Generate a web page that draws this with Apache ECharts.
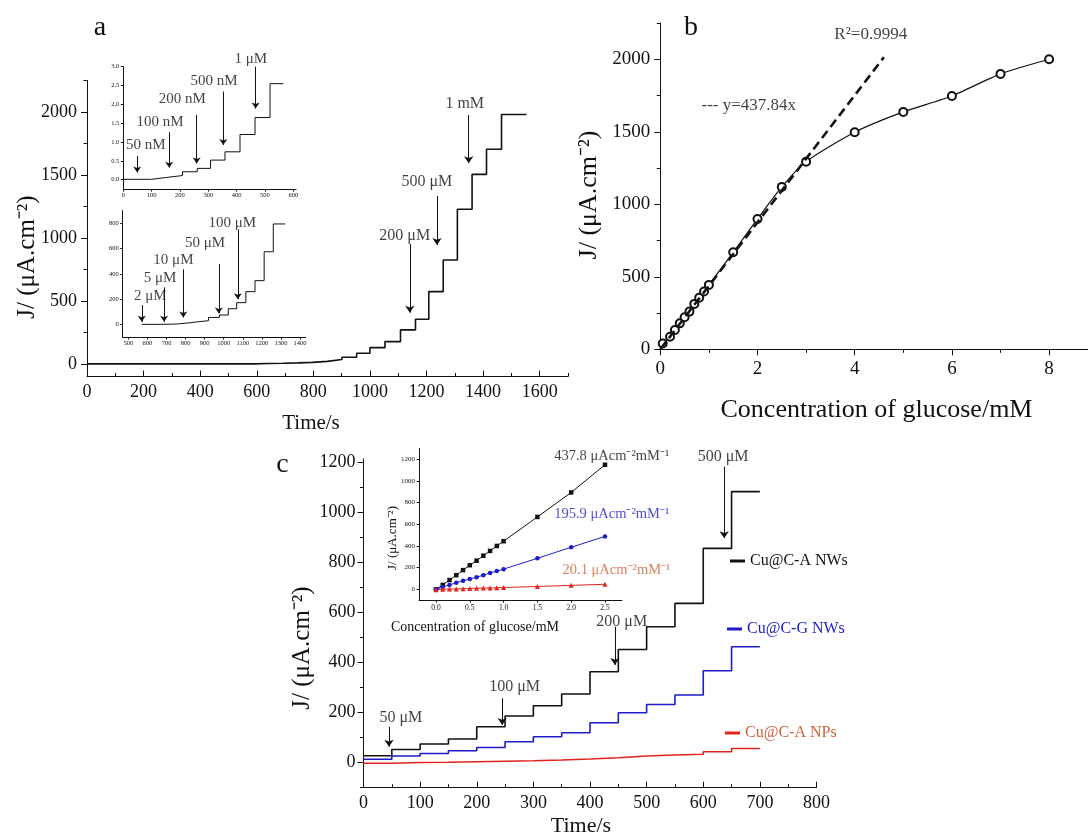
<!DOCTYPE html>
<html><head><meta charset="utf-8">
<script src="https://cdn.jsdelivr.net/npm/echarts@6/dist/echarts.min.js"></script>
<style>html,body{margin:0;padding:0;background:#fff}#chart{width:1088px;height:835px}</style>
</head><body><div id="chart"></div>
<script>
// ---------------- DATA ----------------
// Panel a, main amperometric staircase (step start time, current density)
const aMainTime = [0, 589, 641, 693, 745, 797, 849, 901, 953, 1000, 1053, 1108, 1161, 1208, 1259, 1309, 1361, 1412, 1465, 1553];
const aMainJ    = [0, 3, 5, 8, 12, 20, 35, 53, 85, 129, 177, 270, 355, 574, 825, 1228, 1505, 1704, 1980, 1975];
// Panel a, top inset (nM additions)
const aTopTime = [0, 100, 153, 209, 261, 308, 359, 412, 465, 518, 565];
const aTopJ    = [0.01, 0.06, 0.11, 0.21, 0.30, 0.52, 0.74, 1.20, 1.65, 2.55, 2.56];
// Panel a, bottom inset (μM additions)
const aBotTime = [570, 675, 757, 824, 867, 920, 977, 1024, 1068, 1116, 1164, 1212, 1260, 1322];
const aBotJ    = [0, 3, 13, 21, 29, 55, 74, 124, 172, 259, 346, 575, 795, 792];
// Panel b, calibration points
const bConc = [0.05, 0.2, 0.3, 0.4, 0.5, 0.6, 0.7, 0.8, 0.9, 1.0, 1.5, 2, 2.5, 3, 4, 5, 6, 7, 8];
const bJ    = [40, 87, 133, 179, 221, 260, 313, 356, 398, 444, 669, 899, 1120, 1294, 1497, 1637, 1747, 1899, 2000];
const bFitConc = [0, 4.6];
const bFitJ    = [0, 2014];
// Panel c, staircases for three materials
const cTime  = [0, 50, 100, 150, 200, 250, 300, 350, 400, 450, 500, 550, 600, 650, 700];
const cANWs  = [28, 53, 75, 95, 144, 187, 228, 275, 364, 453, 544, 637, 857, 1084, 1084];
const cGNWs  = [14, 27, 37, 48, 61, 84, 104, 120, 160, 200, 233, 271, 368, 464, 462];
const cANPs  = [-2, 1, 2, 4, 6, 8, 11, 15, 20, 27, 31, 34, 44, 57, 56];
// Panel c inset calibration
const icConc  = [0, 0.1, 0.2, 0.3, 0.4, 0.5, 0.6, 0.7, 0.8, 0.9, 1.0, 1.5, 2.0, 2.5];
const icANWs  = [0, 40, 85, 130, 177, 222, 264, 310, 354, 400, 444, 668, 894, 1150];
const icGNWs  = [0, 22, 40, 60, 78, 95, 112, 130, 150, 168, 186, 286, 388, 488];
const icANPs  = [-5, 0, 2, 3, 5, 7, 9, 11, 12, 14, 16, 26, 36, 46];

// Annotations: [x, y, text] and arrows: [x, yFrom, yTo]
const aMainNotes  = [[1123, 1016, '200 μM'], [1201, 1444, '500 μM'], [1335, 2063, '1 mM']];
const aMainArrows = [[1141, 952, 407], [1237, 1333, 944], [1349, 1976, 1593]];
const aTopNotes   = [[79, 0.92, '50 nM'], [130, 1.54, '100 nM'], [208, 2.13, '200 nM'], [320, 2.62, '500 nM'], [450, 3.20, '1 μM']];
const aTopArrows  = [[49, 0.63, 0.19], [162, 1.26, 0.32], [259, 1.72, 0.43], [353, 2.34, 0.92], [467, 3.0, 1.89]];
const aBotNotes   = [[615, 224, '2 μM'], [666, 364, '5 μM'], [736, 509, '10 μM'], [902, 642, '50 μM'], [1045, 800, '100 μM']];
const aBotArrows  = [[570, 153, 21], [687, 293, 21], [788, 436, 55], [974, 478, 87], [1074, 752, 198]];
const bNotes      = [[4.33, 2168, 'R²=0.9994'], [1.82, 1678, '--- y=437.84x']];
const cNotes      = [[66, 178, '50 μM'], [267, 302, '100 μM'], [456, 564, '200 μM'], [635, 1224, '500 μM']];
const cArrows     = [[45, 144, 64], [245, 258, 151], [444, 544, 391], [637, 1184, 898]];
const icNotes     = [[2.60, 1229, '437.8 μAcm⁻²mM⁻¹'], [2.60, 692, '195.9 μAcm⁻²mM⁻¹'], [2.67, 178, '20.1 μAcm⁻²mM⁻¹']];

// Tick label values
const aXLabels = [0, 200, 400, 600, 800, 1000, 1200, 1400, 1600];
const aXMinor  = [100, 300, 500, 700, 900, 1100, 1300, 1500, 1700];
const aYLabels = [0, 500, 1000, 1500, 2000];
const aYMinor  = [250, 750, 1250, 1750, 2250];
const aTopXLabels = [0, 100, 200, 300, 400, 500, 600];
const aTopYLabels = [0, 0.5, 1.0, 1.5, 2.0, 2.5, 3.0];
const aBotXLabels = [500, 600, 700, 800, 900, 1000, 1100, 1200, 1300, 1400];
const aBotYLabels = [0, 200, 400, 600, 800];
const bXLabels = [0, 2, 4, 6, 8];
const bXMinor  = [1, 3, 5, 7];
const bYLabels = [0, 500, 1000, 1500, 2000];
const bYMinor  = [250, 750, 1250, 1750, 2250];
const cXLabels = [0, 100, 200, 300, 400, 500, 600, 700, 800];
const cXMinor  = [50, 150, 250, 350, 450, 550, 650, 750];
const cYLabels = [0, 200, 400, 600, 800, 1000, 1200];
const cYMinor  = [-100, 100, 300, 500, 700, 900, 1100];
const icXLabels = [0, 0.5, 1.0, 1.5, 2.0, 2.5];
const icYLabels = [0, 200, 400, 600, 800, 1000, 1200];

// ---------------- STYLE / LAYOUT ----------------
const FONT = "'Liberation Serif','Times New Roman',serif";
const INK = '#111';
const BLUE = '#1c1cc8';
const RED = '#e0241e';
const ORANGE = '#d0603a';

function pairs(xs, ys) { return xs.map((x, i) => [x, ys[i]]); }

function mkAxis(grid, min, max, labels, ticks, o) {
  return {
    type: 'value', gridIndex: grid, min: min, max: max, position: o.pos,
    axisLine: { show: true, onZero: false, lineStyle: { color: INK, width: 1 } },
    axisTick: { show: true, inside: !!o.inside, length: o.tl || 6, customValues: ticks, lineStyle: { color: INK, width: 1 } },
    axisLabel: { show: true, customValues: labels, fontFamily: FONT, fontSize: o.fs, color: INK, margin: o.margin,
                 formatter: o.fmt || (v => String(v)) },
    splitLine: { show: false }
  };
}
function mkMinor(grid, min, max, ticks, o) {
  return {
    type: 'value', gridIndex: grid, min: min, max: max, position: o.pos,
    axisLine: { show: false, onZero: false },
    axisTick: { show: true, inside: !!o.inside, length: 3.5, customValues: ticks, lineStyle: { color: INK, width: 1 } },
    axisLabel: { show: false },
    splitLine: { show: false }
  };
}

const grids = [
  { left: 87, top: 80.5, width: 481, height: 296 },        // 0 a main
  { left: 123.3, top: 66.7, width: 172.8, height: 122.4 }, // 1 a top inset
  { left: 122.7, top: 210.7, width: 183, height: 126.3 },  // 2 a bottom inset
  { left: 660.3, top: 23, width: 428.6, height: 326.3 },   // 3 b
  { left: 363.5, top: 458.9, width: 453, height: 328.8 },  // 4 c
  { left: 419.1, top: 448.5, width: 202.8, height: 151.6 } // 5 c inset
];

const xAxes = [
  mkAxis(0, 0, 1700, aXLabels, aXLabels, { pos: 'bottom', fs: 18, margin: 7, inside: true }),
  mkAxis(1, 0, 610, aTopXLabels, aTopXLabels, { pos: 'bottom', fs: 6.5, margin: 3, tl: 2.5 }),
  mkAxis(2, 470, 1430, aBotXLabels, aBotXLabels, { pos: 'bottom', fs: 6.5, margin: 3, tl: 2.5 }),
  mkAxis(3, 0, 8.8, bXLabels, bXLabels, { pos: 'bottom', fs: 19, margin: 10 }),
  mkAxis(4, 0, 800, cXLabels, cXLabels, { pos: 'bottom', fs: 18, margin: 7, inside: true }),
  mkAxis(5, -0.25, 2.75, icXLabels, icXLabels, { pos: 'bottom', fs: 7.5, margin: 4, tl: 2.5, fmt: v => v.toFixed(1) }),
  mkMinor(0, 0, 1700, aXMinor, { pos: 'bottom', inside: true }),
  mkMinor(3, 0, 8.8, bXMinor, { pos: 'bottom' }),
  mkMinor(4, 0, 800, cXMinor, { pos: 'bottom', inside: true })
];
const yAxes = [
  mkAxis(0, -100, 2250, aYLabels, aYLabels, { pos: 'left', fs: 18, margin: 10 }),
  mkAxis(1, -0.25, 3.0, aTopYLabels, aTopYLabels, { pos: 'left', fs: 6.5, margin: 4, tl: 2.5, fmt: v => v.toFixed(1) }),
  mkAxis(2, -100, 900, aBotYLabels, aBotYLabels, { pos: 'left', fs: 6.5, margin: 4, tl: 2.5 }),
  mkAxis(3, 0, 2250, bYLabels, bYLabels, { pos: 'left', fs: 19, margin: 10 }),
  mkAxis(4, -100, 1215, cYLabels, cYLabels, { pos: 'left', fs: 18, margin: 8 }),
  mkAxis(5, -100, 1300, icYLabels, icYLabels, { pos: 'left', fs: 7, margin: 4, tl: 2.5 }),
  mkMinor(0, -100, 2250, aYMinor, { pos: 'left' }),
  mkMinor(3, 0, 2250, bYMinor, { pos: 'left' }),
  mkMinor(4, -100, 1215, cYMinor, { pos: 'left' })
];

function stepLine(name, idx, xs, ys, color, width) {
  return { name: name, type: 'line', xAxisIndex: idx, yAxisIndex: idx, step: 'end', showSymbol: false,
           data: pairs(xs, ys), color: color, lineStyle: { color: color, width: width }, animation: false, silent: true };
}
function notes(idx, list, arrows, fs, colors, arrowSize) {
  return {
    type: 'scatter', xAxisIndex: idx, yAxisIndex: idx, symbolSize: 0, clip: false, silent: true, animation: false, z: 5,
    data: list.map((n, i) => ({ value: [n[0], n[1]], name: n[2],
      label: { show: true, position: 'inside', formatter: n[2], fontFamily: FONT, fontSize: fs,
               color: colors ? colors[i] : INK } })),
    markLine: arrows ? {
      silent: true, animation: false, symbol: ['none', 'arrow'], symbolSize: arrowSize,
      lineStyle: { color: INK, width: 1, type: 'solid' }, label: { show: false },
      data: arrows.map(a => [{ coord: [a[0], a[1]] }, { coord: [a[0], a[2]] }])
    } : undefined
  };
}

const series = [
  stepLine('a main', 0, aMainTime, aMainJ, INK, 1.6),
  stepLine('a top', 1, aTopTime, aTopJ, INK, 1),
  stepLine('a bottom', 2, aBotTime, aBotJ, INK, 1),
  { name: 'b data', type: 'line', xAxisIndex: 3, yAxisIndex: 3, data: pairs(bConc, bJ), smooth: 0.22,
    symbol: 'emptyCircle', symbolSize: 8, showSymbol: true, showAllSymbol: true, color: INK,
    itemStyle: { color: INK, borderColor: INK, borderWidth: 1 },
    lineStyle: { color: INK, width: 1.2 }, z: 3, animation: false, silent: true },
  { name: 'b fit', type: 'line', xAxisIndex: 3, yAxisIndex: 3, data: pairs(bFitConc, bFitJ), showSymbol: false,
    lineStyle: { color: INK, width: 2.6, type: [9, 5] }, z: 4, animation: false, silent: true },
  stepLine('Cu@C-A NWs', 4, cTime, cANWs, INK, 1.6),
  stepLine('Cu@C-G NWs', 4, cTime, cGNWs, BLUE, 1.6),
  stepLine('Cu@C-A NPs', 4, cTime, cANPs, RED, 1.6),
  { name: 'i A NWs', type: 'line', xAxisIndex: 5, yAxisIndex: 5, data: pairs(icConc, icANWs), symbol: 'rect', symbolSize: 4.5,
    showAllSymbol: true, color: INK, lineStyle: { color: INK, width: 1 }, animation: false, silent: true },
  { name: 'i G NWs', type: 'line', xAxisIndex: 5, yAxisIndex: 5, data: pairs(icConc, icGNWs), symbol: 'circle', symbolSize: 4.5,
    showAllSymbol: true, color: BLUE, lineStyle: { color: BLUE, width: 1 }, animation: false, silent: true },
  { name: 'i A NPs', type: 'line', xAxisIndex: 5, yAxisIndex: 5, data: pairs(icConc, icANPs), symbol: 'triangle', symbolSize: 5,
    showAllSymbol: true, color: RED, lineStyle: { color: RED, width: 1 }, animation: false, silent: true },
  notes(0, aMainNotes, aMainArrows, 16, null, 7),
  notes(1, aTopNotes, aTopArrows, 15, null, 6),
  notes(2, aBotNotes, aBotArrows, 15, null, 6),
  notes(3, bNotes, null, 17, null, 6),
  notes(4, cNotes, cArrows, 16, null, 7),
  notes(5, icNotes, null, 14.5, [INK, BLUE, ORANGE], 6)
];

function txt(x, y, text, size, rot, color) {
  return { type: 'text', x: x, y: y, rotation: rot || 0, silent: true,
    style: { text: text, fontFamily: FONT, fontSize: size, fill: color || INK,
             align: 'center', verticalAlign: 'middle', textAlign: 'center', textVerticalAlign: 'middle' } };
}
const graphics = [
  txt(100, 28, 'a', 28), txt(691, 28, 'b', 28), txt(282.5, 465, 'c', 28),
  txt(27, 257, 'J/ (μA.cm⁻²)', 25, Math.PI / 2),
  txt(311, 423, 'Time/s', 21),
  txt(589, 195, 'J/ (μA.cm⁻²)', 26, Math.PI / 2),
  txt(876.5, 410, 'Concentration of glucose/mM', 26),
  txt(302, 648, 'J/ (μA.cm⁻²)', 25, Math.PI / 2),
  txt(581, 826, 'Time/s', 22),
  txt(475, 627, 'Concentration of glucose/mM', 14),
  txt(393, 538, 'J/ (μA.cm⁻²)', 13, Math.PI / 2)
];

function leg(name, left, top, color) {
  return { data: [name], left: left, top: top, icon: 'rect', itemWidth: 15, itemHeight: 3, padding: 0,
           selectedMode: false, textStyle: { fontFamily: FONT, fontSize: 16, color: color } };
}

const chart = echarts.init(document.getElementById('chart'), null, { renderer: 'canvas' });
chart.setOption({
  backgroundColor: '#fff',
  animation: false,
  grid: grids,
  xAxis: xAxes,
  yAxis: yAxes,
  legend: [
    leg('Cu@C-A NWs', 730, 553, INK),
    leg('Cu@C-G NWs', 727, 621, BLUE),
    leg('Cu@C-A NPs', 725, 725, ORANGE)
  ],
  graphic: graphics,
  series: series
});
</script></body></html>
